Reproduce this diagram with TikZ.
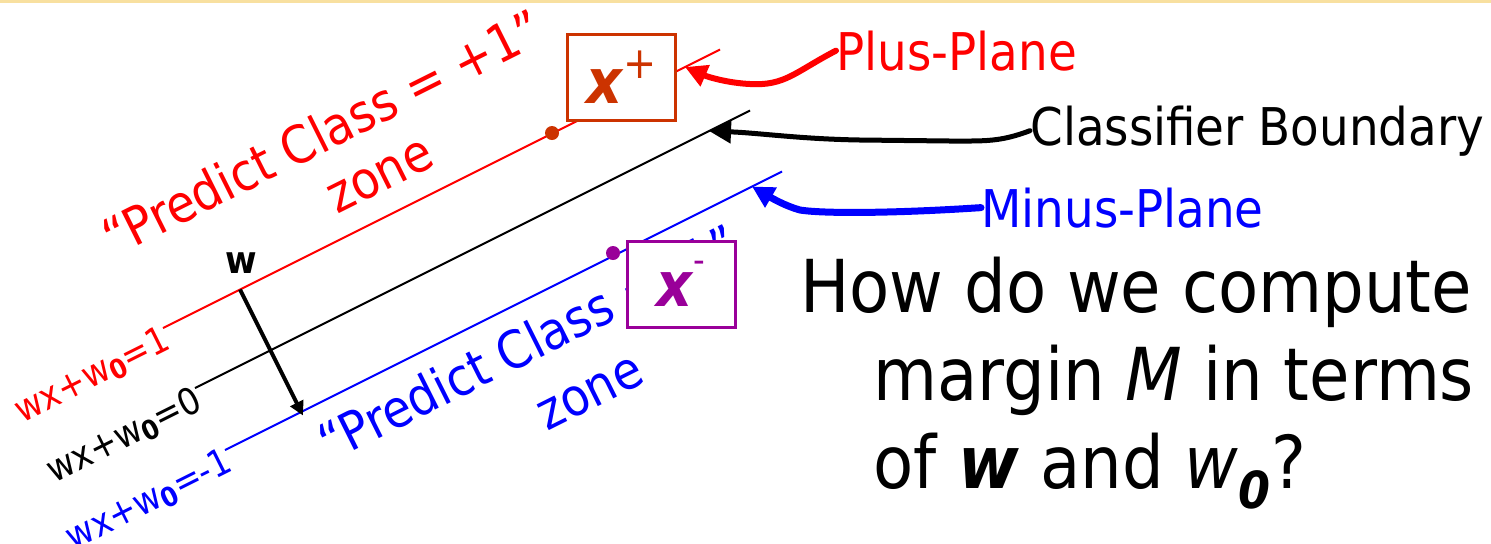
\documentclass[tikz,border=0pt]{standalone}
\usepackage{fontspec}
\setmainfont{DejaVuSansCondensed}[Extension=.ttf,
  BoldFont=DejaVuSansCondensed-Bold,
  ItalicFont=DejaVuSansCondensed-Oblique,
  BoldItalicFont=DejaVuSansCondensed-BoldOblique]
\usetikzlibrary{arrows.meta,positioning,calc}
\definecolor{inkBlack}{RGB}{0, 0, 0}
\definecolor{planeRed}{RGB}{255, 0, 0}
\definecolor{planeBlue}{RGB}{0, 0, 255}
\definecolor{pointOrange}{RGB}{204, 51, 0}
\definecolor{pointPurple}{RGB}{153, 0, 153}
\definecolor{bandTan}{RGB}{248, 224, 160}
\newcommand{\eqlabel}[1]{wx+w\raisebox{-0.12em}{\fontsize{13.5pt}{13.5pt}\selectfont\bfseries 0}=#1}

\begin{document}
\begin{tikzpicture}[x=0.5pt,y=-0.5pt,
    plane/.style={line width=1pt},
    callout/.style={line width=#1, line cap=round, -{Triangle[length=11pt,width=11pt]}},
    pointbox/.style={draw=#1, fill=white, line width=1.5pt, minimum width=54pt,
      minimum height=43pt, inner sep=0pt, text=#1, font=\fontsize{31pt}{31pt}\selectfont},
    pointdot/.style={circle, fill=#1, inner sep=0pt, minimum size=7pt},
    zonetext/.style={rotate=26.57, anchor=base west, inner sep=0pt, font=\fontsize{26pt}{26pt}\selectfont},
    eqtext/.style={rotate=26.57, anchor=north east, inner sep=0pt, yshift=2.5pt,
      font=\fontsize{18.5pt}{18.5pt}\selectfont},
    planetext/.style={anchor=base west, inner sep=0pt, font=\fontsize{26pt}{26pt}\selectfont},
    asktext/.style={anchor=base west, inner sep=0pt, font=\fontsize{36.5pt}{44pt}\selectfont}]
  \useasboundingbox (0,0) rectangle (1491,543);
  \fill[bandTan] (0,0) rectangle (1491,2.5);

  % the three planes
  \coordinate (plusstart) at (163,328);
  \coordinate (plusend) at (720,49.5);
  \coordinate (zerostart) at (195,388);
  \coordinate (zeroend) at (750,110.5);
  \coordinate (minusstart) at (225,450);
  \coordinate (minusend) at (782,171.5);
  \draw[plane, planeRed] (plusstart) -- (plusend);
  \draw[plane, inkBlack] (zerostart) -- (zeroend);
  \draw[plane, planeBlue] (minusstart) -- (minusend);

  \node[eqtext, text=planeRed] (pluseq) at (plusstart) {\eqlabel{1}};
  \node[eqtext, text=inkBlack] (zeroeq) at (zerostart) {\eqlabel{0}};
  \node[eqtext, text=planeBlue] (minuseq) at (minusstart) {\eqlabel{-1}};

  % zones
  \node[zonetext, text=planeRed] (pluszone) at (114,258) {“Predict Class = +1”};
  \node[zonetext, text=planeRed] (pluszone2) at (337,215) {zone};
  \node[zonetext, text=planeBlue] (minuszone) at (330,463) {“Predict Class = -1”};
  \node[zonetext, text=planeBlue] (minuszone2) at (547,432) {zone};

  % normal vector
  \coordinate (wtop) at (240,289.5);
  \coordinate (wtip) at (303,415.5);
  \draw[line width=2pt, -{Triangle[length=7pt,width=7pt]}] (wtop) -- (wtip);
  \node[font=\fontsize{19pt}{19pt}\selectfont\bfseries, inner sep=0pt] (wlabel) at (241,263) {w};

  % support points
  \node[pointdot=pointOrange] (plusdot) at (552,133) {};
  \node[pointdot=pointPurple] (minusdot) at (613,253) {};
  \node[pointbox=pointOrange] (xplus) at (621.5,77.5)
    {\textbf{\textit{x}}\raisebox{0.4em}{\fontsize{22pt}{22pt}\selectfont +}};
  \node[pointbox=pointPurple] (xminus) at (681,284)
    {\textbf{\textit{x}}\raisebox{0.55em}{\fontsize{18pt}{18pt}\selectfont -}\hspace{8pt}};

  % callouts
  \node[planetext, text=planeRed] (plusplane) at (836,70) {Plus-Plane};
  \node[planetext, text=inkBlack] (boundary) at (1030,145) {Classifier Boundary};
  \node[planetext, text=planeBlue] (minusplane) at (981,227) {Minus-Plane};

  \coordinate (plustip) at (685,67);
  \coordinate (zerotip) at (709,131);
  \coordinate (minustip) at (752,186.5);
  \draw[callout=3pt, planeRed] (plusplane.west) .. controls (795,72) and (785,86) .. (750,84)
    .. controls (728,83) and (708,77) .. (plustip);
  \draw[callout=2.5pt, inkBlack] (boundary.west) .. controls (1000,142) and (985,141) .. (950,141)
    -- (860,140) .. controls (800,139) and (760,133) .. (zerotip);
  \draw[callout=3.5pt, planeBlue] (minusplane.west) .. controls (900,213) and (825,214) .. (800,210)
    .. controls (785,206) and (770,197) .. (minustip);

  % question
  \node[asktext] (ask1) at (800,312) {How do we compute};
  \node[asktext] (ask2) at (873,400) {margin \textit{M} in terms};
  \node[asktext] (ask3) at (873,488)
    {of \textbf{\textit{w}} and \textit{w}\textsubscript{\textbf{\textit{0}}}?};
\end{tikzpicture}
\end{document}
